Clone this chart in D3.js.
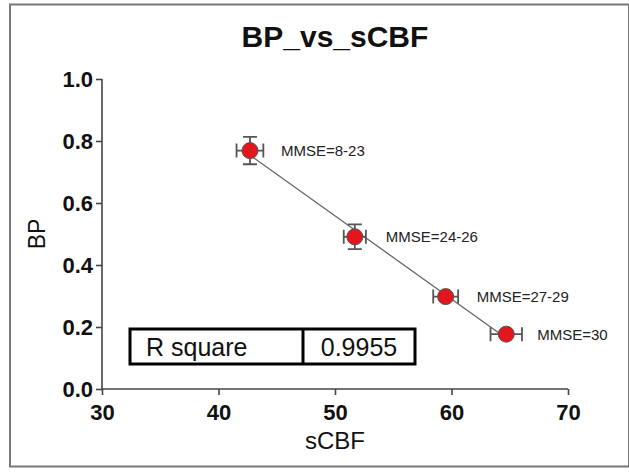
<!DOCTYPE html>
<html>
<head>
<meta charset="utf-8">
<script src="https://cdn.jsdelivr.net/npm/d3@7"></script>
<style>
  body { margin: 0; background: #fff; }
  svg { display: block; font-family: "Liberation Sans", Arial, sans-serif; }
</style>
</head>
<body>
<div id="chart"></div>
<script>
// Data
const groups = ['MMSE=8-23', 'MMSE=24-26', 'MMSE=27-29', 'MMSE=30'];
const sCBF = [42.7, 51.7, 59.5, 64.7];
const sCBFErr = [1.15, 0.95, 1.07, 1.35];
const bp = [0.769, 0.491, 0.298, 0.177];
const bpErr = [0.044, 0.04, 0.012, 0.01];
const xTicks = [30, 40, 50, 60, 70];
const yTicks = [0.0, 0.2, 0.4, 0.6, 0.8, 1.0];
const rSquare = '0.9955';

const W = 629, H = 473;
const margin = { top: 79, right: 61, bottom: 84, left: 102 };
const width = W - margin.left - margin.right;
const height = H - margin.top - margin.bottom;

const svg = d3.select('#chart')
    .append('svg')
    .attr('width', W)
    .attr('height', H);

// Outer frame
svg.append('rect')
    .attr('x', 10).attr('y', 4.5)
    .attr('width', W - 10).attr('height', 462)
    .attr('fill', 'none')
    .attr('stroke', '#777')
    .attr('stroke-width', 2);

// Title
svg.append('text')
    .attr('x', 335)
    .attr('y', 47)
    .attr('text-anchor', 'middle')
    .attr('font-size', '30px')
    .attr('font-weight', 'bold')
    .attr('fill', '#111')
    .text('BP_vs_sCBF');

const g = svg.append('g')
    .attr('transform', `translate(${margin.left},${margin.top})`);

const x = d3.scaleLinear().domain([30, 70]).range([0, width]);
const y = d3.scaleLinear().domain([0, 1]).range([height, 0]);

// Axes
const xAxis = g.append('g')
    .attr('transform', `translate(0,${height})`)
    .call(d3.axisBottom(x).tickValues(xTicks).tickSize(6).tickPadding(9).tickFormat(d3.format('d')));

const yAxis = g.append('g')
    .call(d3.axisLeft(y).tickValues(yTicks).tickSize(6).tickPadding(3).tickFormat(d3.format('.1f')));

[xAxis, yAxis].forEach(a => {
    a.select('.domain').attr('stroke', '#444').attr('stroke-width', 1.6);
    a.selectAll('.tick line').attr('stroke', '#444').attr('stroke-width', 1.6);
    a.selectAll('.tick text')
        .attr('fill', '#111')
        .attr('font-size', '22px')
        .attr('font-weight', 'bold')
        .attr('font-family', '"Liberation Sans", Arial, sans-serif');
});
xAxis.select('.domain').attr('d', `M0,0H${width}`);
yAxis.select('.domain').attr('d', `M0,${height}V0`);

// Axis titles
svg.append('text')
    .attr('transform', `translate(45,${margin.top + height / 2}) rotate(-90)`)
    .attr('text-anchor', 'middle')
    .attr('font-size', '23px')
    .attr('fill', '#111')
    .text('BP');

svg.append('text')
    .attr('x', margin.left + width / 2)
    .attr('y', 449)
    .attr('text-anchor', 'middle')
    .attr('font-size', '24px')
    .attr('fill', '#111')
    .text('sCBF');

// Linear regression line
const mx = d3.mean(sCBF), my = d3.mean(bp);
const slope = d3.sum(sCBF, (v, i) => (v - mx) * (bp[i] - my)) / d3.sum(sCBF, v => (v - mx) ** 2);
const intercept = my - slope * mx;
const [x0, x1] = d3.extent(sCBF);
g.append('line')
    .attr('x1', x(x0)).attr('y1', y(intercept + slope * x0))
    .attr('x2', x(x1)).attr('y2', y(intercept + slope * x1))
    .attr('stroke', '#666')
    .attr('stroke-width', 1.3);

const pts = groups.map((name, i) => ({ name, x: sCBF[i], xe: sCBFErr[i], y: bp[i], ye: bpErr[i] }));
const cap = 7;

// Error bars
const eb = g.selectAll('.err').data(pts).enter().append('g')
    .attr('stroke', '#555')
    .attr('stroke-width', 1.8)
    .attr('fill', 'none');
eb.append('path')
    .attr('d', d => `M${x(d.x - d.xe)},${y(d.y)}H${x(d.x + d.xe)}` +
        `M${x(d.x - d.xe)},${y(d.y) - cap}V${y(d.y) + cap}` +
        `M${x(d.x + d.xe)},${y(d.y) - cap}V${y(d.y) + cap}`);
eb.append('path')
    .attr('d', d => `M${x(d.x)},${y(d.y - d.ye)}V${y(d.y + d.ye)}` +
        `M${x(d.x) - cap},${y(d.y - d.ye)}H${x(d.x) + cap}` +
        `M${x(d.x) - cap},${y(d.y + d.ye)}H${x(d.x) + cap}`);

// Points
g.selectAll('.pt').data(pts).enter().append('circle')
    .attr('cx', d => x(d.x))
    .attr('cy', d => y(d.y))
    .attr('r', 8)
    .attr('fill', '#e3161d')
    .attr('stroke', '#555')
    .attr('stroke-width', 1);

// Group labels
g.selectAll('.lbl').data(pts).enter().append('text')
    .attr('x', d => x(d.x) + 31)
    .attr('y', d => y(d.y) + 5.5)
    .attr('font-size', '15px')
    .attr('fill', '#222')
    .text(d => d.name);

// R square box
const box = svg.append('g').attr('transform', 'translate(130,329)');
box.append('rect')
    .attr('width', 285).attr('height', 35)
    .attr('fill', '#fff')
    .attr('stroke', '#000')
    .attr('stroke-width', 3);
box.append('line')
    .attr('x1', 173).attr('x2', 173)
    .attr('y1', 0).attr('y2', 35)
    .attr('stroke', '#000')
    .attr('stroke-width', 3);
box.append('text')
    .attr('x', 16).attr('y', 27)
    .attr('font-size', '25px')
    .attr('fill', '#111')
    .text('R square');
box.append('text')
    .attr('x', 229).attr('y', 27)
    .attr('text-anchor', 'middle')
    .attr('font-size', '25px')
    .attr('fill', '#111')
    .text(rSquare);
</script>
</body>
</html>
